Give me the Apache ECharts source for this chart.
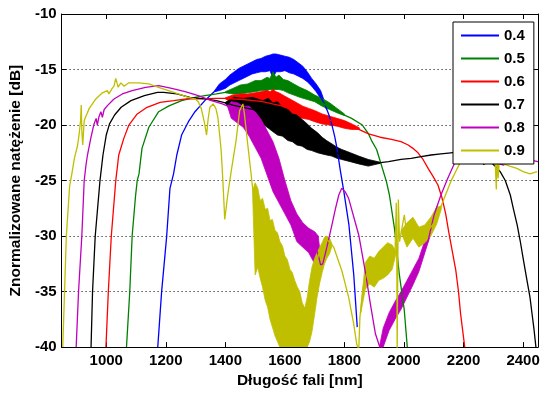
<!DOCTYPE html>
<html>
<head>
<meta charset="utf-8">
<script src="https://cdn.jsdelivr.net/npm/echarts@6/dist/echarts.min.js"></script>
<style>
html,body{margin:0;padding:0;background:#fff;}
#chart{width:555px;height:394px;}
</style>
</head>
<body>
<div id="chart"></div>
<script>
// ---- data (wavelength nm, normalized intensity dB) ----
const seriesNames = ['0.4', '0.5', '0.6', '0.7', '0.8', '0.9'];
const seriesColors = ['#0000ff', '#008000', '#ff0000', '#000000', '#bf00bf', '#bfbf00'];
const xTicks = [1000, 1200, 1400, 1600, 1800, 2000, 2200, 2400];
const yTicks = [-40, -35, -30, -25, -20, -15, -10];

// 0.4
const wl04 = [1173,1186,1203,1214,1226,1237,1253,1276,1298,1331,1364,1398,1425,1459,1492,1525,1558,1592,1625,1658,1680,1701,1718,1735,1748,1758,1767,1775,1785,1798,1815,1831,1843];
const db04 = [-40,-35,-30,-25.7,-24.4,-22.7,-20.9,-19.7,-18.8,-17.8,-16.95,-16.3,-15.7,-15.3,-14.9,-14.6,-14.4,-14.5,-14.75,-15.3,-15.8,-16.6,-17.4,-18.2,-19.1,-20.0,-21.0,-22.1,-23.9,-26,-29,-33.4,-38.2];
const bandWl04 = [1364,1380,1400,1415,1430,1445,1460,1475,1490,1505,1520,1535,1550,1560,1570,1585,1600,1615,1630,1645,1660,1675,1690,1705,1720,1740];
const bandHi04 = [-16.9,-16.3,-15.9,-15.5,-15.2,-14.9,-14.7,-14.5,-14.3,-14.1,-14.0,-13.8,-13.7,-13.6,-13.6,-13.7,-13.8,-13.9,-14.1,-14.4,-14.7,-15.2,-15.8,-16.3,-16.9,-18.4];
const bandLo04 = [-17.0,-16.9,-16.7,-16.4,-16.2,-16.0,-15.8,-15.6,-15.4,-15.3,-15.2,-15.2,-15.1,-15.8,-15.2,-15.2,-15.1,-15.3,-15.4,-15.6,-15.8,-16.1,-16.5,-17.0,-17.6,-18.6];

// 0.5
const wl05 = [1068,1079,1087,1098,1104,1110,1120,1143,1176,1209,1253,1298,1331,1370,1400,1459,1525,1558,1592,1625,1658,1691,1725,1758,1791,1824,1860,1881,1891,1908,1924,1941,1951,1968,1984,2001,2011];
const db05 = [-40,-35,-30,-26.5,-25,-24.4,-22.1,-20.2,-18.8,-18.3,-17.8,-17.5,-17.35,-17.2,-17.05,-16.8,-16.5,-16.3,-16.45,-16.8,-17.2,-17.6,-18.0,-18.6,-19.0,-19.4,-20.0,-20.8,-21.4,-22.2,-23.6,-25.1,-26.3,-29.3,-33.4,-36.7,-40];
const bandWl05 = [1400,1425,1450,1475,1500,1520,1540,1550,1560,1570,1580,1595,1610,1630,1650,1675,1700,1725,1750,1775,1800];
const bandHi05 = [-17.0,-16.7,-16.4,-16.3,-16.0,-16.0,-15.7,-15.8,-15.2,-15.7,-15.5,-15.9,-16.0,-16.3,-16.6,-16.9,-17.3,-17.6,-18.0,-18.5,-19.0];
const bandLo05 = [-17.1,-17.2,-17.2,-17.1,-17.0,-16.9,-16.9,-16.8,-16.8,-16.8,-16.8,-16.9,-17.1,-17.3,-17.5,-17.7,-17.9,-18.3,-18.6,-18.9,-19.15];

// 0.6
const wl06 = [999,1007,1017,1032,1042,1059,1076,1104,1137,1181,1226,1270,1314,1370,1400,1459,1525,1558,1592,1625,1658,1691,1725,1758,1791,1841,1881,1920,1958,1990,2014,2030,2047,2064,2081,2097,2114,2127,2140,2150,2163,2174,2183,2190,2204];
const db06 = [-40,-35,-30,-25,-22.7,-21.2,-20,-19,-18.4,-17.95,-17.8,-17.65,-17.65,-17.6,-17.6,-17.7,-17.9,-18.1,-18.3,-18.6,-18.8,-19.1,-19.4,-19.6,-19.9,-20.3,-20.8,-21.1,-21.3,-21.5,-21.8,-22.1,-22.5,-23.1,-23.9,-24.6,-25.4,-26.5,-28,-29.6,-31.5,-33.1,-35,-37,-40];
const bandWl06 = [1400,1425,1450,1475,1500,1520,1540,1550,1560,1570,1580,1600,1620,1640,1660,1680,1700,1725,1750,1775,1800,1825,1850];
const bandHi06 = [-17.55,-17.3,-17.2,-17.2,-17.1,-17.0,-16.9,-17.0,-16.8,-17.0,-17.1,-17.4,-17.7,-18.0,-18.3,-18.5,-18.7,-19.0,-19.2,-19.4,-19.6,-19.9,-20.25];
const bandLo06 = [-17.65,-18.0,-18.2,-18.5,-18.6,-18.8,-19.0,-19.1,-19.2,-19.2,-19.2,-19.2,-19.3,-19.3,-19.4,-19.5,-19.7,-19.9,-20.0,-20.1,-20.3,-20.4,-20.4];

// 0.7
const wl07 = [949,954,963,979,989,1000,1011,1028,1050,1083,1128,1172,1193,1237,1281,1331,1370,1400,1425,1459,1492,1525,1558,1592,1625,1658,1691,1725,1758,1791,1848,1881,1914,1948,1990,2024,2057,2091,2124,2157,2190,2224,2250,2262,2268,2272,2290,2310,2323,2340,2357,2367,2380,2390,2402,2413,2423,2430,2437,2443];
const db07 = [-40,-35,-30,-25,-22.7,-20.9,-19.9,-19.1,-18.4,-17.8,-17.35,-17.05,-17.05,-17.2,-17.5,-17.65,-17.8,-18.0,-18.2,-18.4,-18.6,-18.9,-19.3,-19.8,-20.3,-20.8,-21.4,-21.9,-22.3,-22.7,-23.2,-23.5,-23.4,-23.3,-23.1,-23.0,-22.85,-22.7,-22.6,-22.5,-22.4,-22.3,-22.4,-22.6,-23.6,-22.9,-23.3,-23.8,-24.2,-25,-26.3,-27.5,-29,-30.4,-32.3,-34,-35.5,-37,-38.5,-40];
const bandWl07 = [1400,1430,1460,1490,1525,1545,1560,1575,1592,1610,1625,1640,1658,1675,1690,1710,1725,1740,1758,1775,1791,1820,1848,1880,1920];
const bandHi07 = [-17.95,-17.5,-17.6,-17.5,-17.8,-17.6,-18.0,-17.9,-18.4,-18.6,-19.0,-19.1,-19.5,-19.9,-20.3,-20.7,-21.1,-21.4,-21.7,-22.0,-22.2,-22.5,-22.8,-23.1,-23.35];
const bandLo07 = [-18.05,-18.9,-19.3,-19.5,-19.9,-20.3,-20.6,-20.9,-21.0,-21.4,-21.5,-21.8,-21.9,-22.2,-22.3,-22.5,-22.6,-22.7,-22.8,-23.0,-23.1,-23.3,-23.5,-23.7,-23.45];

// 0.8
const wl08 = [899,907,918,926,932,937,948,958,966,970,975,982,987,993,1004,1026,1054,1087,1132,1176,1220,1265,1309,1353,1390,1408,1420,1430,1450,1470,1482,1495,1510,1540,1570,1600,1630,1660,1690,1710,1720,1727,1741,1758,1770,1781,1791,1802,1814,1848,1870,1887,1904,1915,1922,1935,1948,1981,2014,2047,2081,2101,2124,2147,2167,2190,2224,2257,2280,2300,2318,2335,2350,2380,2413,2450];
const db08 = [-40,-35,-30,-25,-23.6,-22.7,-21.2,-20.0,-19.4,-20.0,-19.3,-18.8,-19.3,-18.6,-18.25,-17.65,-17.2,-16.9,-16.6,-16.45,-16.7,-17.0,-17.35,-17.8,-18.1,-18.3,-18.9,-18.4,-18.9,-19.0,-19.6,-20.2,-21.0,-22.7,-24.3,-26.5,-28.5,-29.8,-30.5,-31.5,-32.6,-32.5,-31,-29,-27.5,-26.3,-25.7,-26.0,-26.6,-29.9,-33.2,-36.1,-38.8,-39.7,-40.3,-39.3,-37.6,-36.0,-34.6,-32.7,-30.4,-28.1,-26.3,-24.8,-23.6,-22.6,-21.8,-21.6,-22.2,-22.9,-23.5,-23.6,-23.3,-23.3,-23.1,-23.3];
const bandWl08a = [1408,1420,1440,1460,1480,1500,1520,1540,1560,1580,1600,1620,1640,1660,1680,1700,1712,1722];
const bandHi08a = [-18.25,-17.9,-18.0,-18.3,-18.3,-18.8,-19.5,-20.5,-21.5,-23.0,-25.0,-26.8,-28.0,-28.8,-29.3,-29.6,-30.0,-32.4];
const bandLo08a = [-18.35,-19.4,-19.8,-20.2,-21.0,-22.0,-23.0,-24.5,-26.0,-27.0,-28.0,-29.0,-30.5,-31.0,-31.5,-32.5,-34.5,-32.8];
const bandWl08b = [1918,1930,1950,1970,1990,2010,2030,2050,2070,2090,2110];
const bandHi08b = [-39.9,-38.3,-36.9,-35.9,-35.0,-34.0,-33.0,-32.0,-30.4,-28.8,-27.35];
const bandLo08b = [-40,-40,-38.5,-37.5,-36.6,-35.5,-34.4,-33.2,-31.5,-29.8,-27.5];

// 0.9
const wl09 = [854,860,866,877,885,893,904,910,914,916,918,921,926,935,943,965,987,1004,1009,1020,1026,1032,1036,1040,1049,1060,1076,1109,1143,1176,1209,1242,1276,1299,1309,1319,1330,1337,1342,1348,1359,1368,1375,1386,1392,1398,1409,1420,1436,1448,1459,1464,1475,1486,1497,1510,1540,1575,1610,1640,1658,1668,1680,1691,1714,1741,1764,1791,1814,1831,1841,1848,1852,1863,1874,1901,1934,1960,1970,1974,1976,1977,1979,1981,1985,1991,2001,2008,2013,2022,2030,2041,2052,2063,2080,2096,2113,2135,2157,2179,2196,2213,2240,2270,2295,2305,2310,2313,2316,2320,2334,2355,2379,2400,2423,2447];
const db09 = [-40,-35,-30,-25.5,-24.3,-23,-21.8,-20.6,-19.5,-18.2,-20.5,-21.8,-19.6,-19.0,-18.5,-17.65,-17.1,-16.9,-17.2,-16.7,-16.5,-15.8,-16.2,-16.6,-16.2,-16.5,-16.2,-16.2,-16.3,-16.6,-16.9,-17.2,-17.5,-17.65,-17.9,-18.5,-19.8,-20.9,-19.5,-18.4,-18.1,-18.5,-19.3,-22.3,-25.2,-28.5,-26.1,-24.1,-21.4,-18.7,-18.1,-19,-21.7,-24.3,-27.0,-29,-31.5,-34.5,-37.5,-39,-39.5,-39.5,-36.1,-33.7,-31.6,-30.3,-31,-33.1,-35.5,-37.9,-39.7,-40.3,-37.3,-34.6,-33.4,-33.1,-32.5,-32.2,-31.5,-27,-33,-40.5,-33,-26.7,-30.5,-29.6,-28.1,-29.5,-30.4,-29.6,-28.9,-29.6,-30.4,-30.1,-29.5,-29,-28.1,-26.6,-25.1,-23.9,-23,-22.1,-21.5,-21.6,-22.2,-22.5,-25.8,-22.4,-24.8,-23.3,-23.5,-23.7,-23.9,-24.2,-24.4,-24.2];
const bandWl09a = [1492,1500,1509,1517,1525,1534,1542,1550,1558,1567,1575,1583,1592,1600,1608,1617,1625,1633,1642,1650,1658,1667,1675,1683,1691,1700,1708,1717,1725,1733,1741,1750,1758];
const bandHi09a = [-25.9,-25.2,-25.7,-26.8,-26.6,-27.6,-27.5,-28.6,-28.5,-29.5,-29.7,-30.5,-30.9,-31.8,-32.1,-33.0,-33.3,-34.0,-34.6,-35.0,-36.0,-36.5,-35.5,-34.0,-32.8,-32.0,-31.5,-31.0,-30.6,-30.1,-30.0,-30.2,-30.7];
const bandLo09a = [-26.6,-33.5,-32.8,-33.8,-34.6,-35.8,-36.4,-37.5,-38.2,-39.0,-39.5,-40,-40,-40,-40,-40,-40,-40,-40,-40,-40,-40,-40,-39.5,-38.6,-37.0,-35.5,-34.2,-33.3,-32.5,-32.0,-31.6,-30.9];
const bandWl09b = [1855,1870,1885,1900,1915,1930,1945,1960,1972];
const bandHi09b = [-36.4,-32.4,-31.8,-32.0,-31.4,-31.0,-30.6,-30.8,-31.3];
const bandLo09b = [-36.9,-34.8,-34.3,-34.6,-34.0,-33.8,-33.5,-33.0,-31.7];
const bandWl09c = [1991,2010,2030,2050,2070,2090,2110,2125];
const bandHi09c = [-29.5,-28.8,-28.3,-29.2,-29.0,-28.3,-27.4,-27.3];
const bandLo09c = [-29.7,-31.0,-30.2,-31.0,-30.6,-30.0,-28.9,-27.6];

// ---- build ----
const FONT = '"Liberation Sans", Arial, sans-serif';

function pairs(xs, ys) { return xs.map((x, i) => [x, ys[i]]); }

function lineSeries(name, color, xs, ys) {
  return {
    name: name, type: 'line', data: pairs(xs, ys), symbol: 'none',
    lineStyle: { color: color, width: 1.3 }, itemStyle: { color: color },
    clip: true, animation: false, z: 2
  };
}

function bandSeries(color, xs, hi, lo) {
  return {
    type: 'custom', silent: true, clip: true, animation: false, z: 2,
    data: [[xs[0], hi[0]]],
    encode: { x: 0, y: 1 },
    renderItem: function (params, api) {
      const pts = [];
      for (let i = 0; i < xs.length; i++) pts.push(api.coord([xs[i], hi[i]]));
      for (let i = xs.length - 1; i >= 0; i--) pts.push(api.coord([xs[i], lo[i]]));
      return { type: 'polygon', shape: { points: pts }, style: { fill: color, stroke: color, lineWidth: 0.8 } };
    }
  };
}

const series = [
  lineSeries(seriesNames[0], seriesColors[0], wl04, db04),
  bandSeries(seriesColors[0], bandWl04, bandHi04, bandLo04),
  lineSeries(seriesNames[1], seriesColors[1], wl05, db05),
  bandSeries(seriesColors[1], bandWl05, bandHi05, bandLo05),
  lineSeries(seriesNames[2], seriesColors[2], wl06, db06),
  bandSeries(seriesColors[2], bandWl06, bandHi06, bandLo06),
  lineSeries(seriesNames[3], seriesColors[3], wl07, db07),
  bandSeries(seriesColors[3], bandWl07, bandHi07, bandLo07),
  lineSeries(seriesNames[4], seriesColors[4], wl08, db08),
  bandSeries(seriesColors[4], bandWl08a, bandHi08a, bandLo08a),
  bandSeries(seriesColors[4], bandWl08b, bandHi08b, bandLo08b),
  lineSeries(seriesNames[5], seriesColors[5], wl09, db09),
  bandSeries(seriesColors[5], bandWl09a, bandHi09a, bandLo09a),
  bandSeries(seriesColors[5], bandWl09b, bandHi09b, bandLo09b),
  bandSeries(seriesColors[5], bandWl09c, bandHi09c, bandLo09c)
];

const axisLine = { show: true, onZero: false, lineStyle: { color: '#000', width: 1 } };
const tickStyle = { show: true, inside: true, length: 5, lineStyle: { color: '#000', width: 1 } };
const labelFont = { color: '#000', fontSize: 15, fontWeight: 'bold', fontFamily: FONT };

const option = {
  animation: false,
  backgroundColor: '#fff',
  grid: { left: 57, right: 17, top: 14, bottom: 44, containLabel: false },
  legend: {
    data: seriesNames, orient: 'vertical', left: 453, top: 22,
    itemWidth: 38, itemHeight: 14, itemGap: 8, padding: [6, 9, 6, 7],
    backgroundColor: '#fff', borderColor: '#000', borderWidth: 1, borderRadius: 0,
    itemStyle: { opacity: 0 },
    textStyle: { color: '#000', fontSize: 15, fontWeight: 'bold', fontFamily: FONT },
    selectedMode: false, z: 10
  },
  xAxis: [
    {
      type: 'value', min: 850, max: 2450, position: 'bottom',
      axisLine: axisLine,
      axisTick: Object.assign({ customValues: xTicks }, tickStyle),
      axisLabel: Object.assign({ customValues: xTicks, margin: 6, formatter: v => String(v) }, labelFont),
      splitLine: { show: false },
      name: 'Długość fali [nm]', nameLocation: 'middle', nameGap: 24,
      nameTextStyle: { color: '#000', fontSize: 15.5, fontWeight: 'bold', fontFamily: FONT }
    },
    {
      type: 'value', min: 850, max: 2450, position: 'top',
      axisLine: axisLine,
      axisTick: Object.assign({ customValues: xTicks }, tickStyle),
      axisLabel: { show: false },
      splitLine: { show: false }
    }
  ],
  yAxis: [
    {
      type: 'value', min: yTicks[0], max: yTicks[yTicks.length - 1], interval: 5, position: 'left',
      axisLine: axisLine, axisTick: tickStyle,
      axisLabel: Object.assign({ margin: 5 }, labelFont),
      splitLine: { show: true, lineStyle: { color: '#000', width: 1, type: [1, 3] } },
      name: 'Znormalizowane natężenie [dB]', nameLocation: 'middle', nameGap: 37,
      nameTextStyle: { color: '#000', fontSize: 15.5, fontWeight: 'bold', fontFamily: FONT }
    },
    {
      type: 'value', min: yTicks[0], max: yTicks[yTicks.length - 1], interval: 5, position: 'right',
      axisLine: axisLine, axisTick: tickStyle,
      axisLabel: { show: false }, splitLine: { show: false }
    }
  ],
  series: series
};

const chart = echarts.init(document.getElementById('chart'), null, { renderer: 'canvas' });
chart.setOption(option);
</script>
</body>
</html>
